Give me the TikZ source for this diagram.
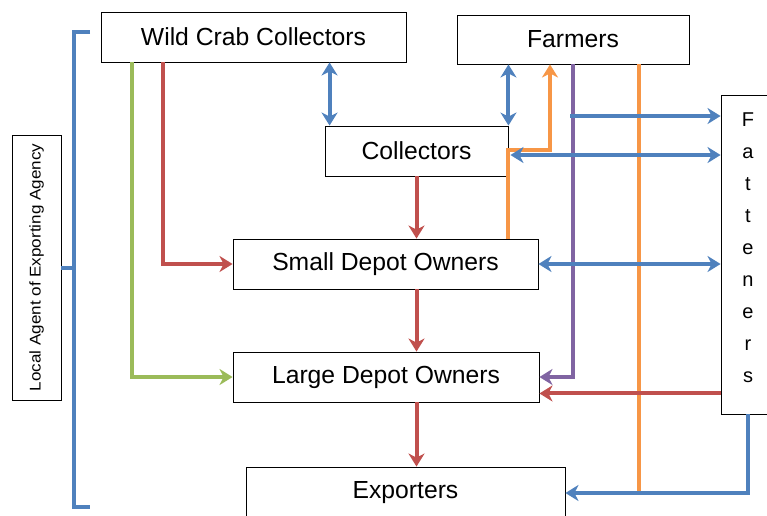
\documentclass[tikz,border=0pt]{standalone}
\usepackage{fontspec}
\setmainfont{Liberation Sans}
\usetikzlibrary{arrows.meta,calc}
\definecolor{cblue}{RGB}{79,129,189}
\definecolor{cred}{RGB}{192,80,77}
\definecolor{cgreen}{RGB}{155,187,89}
\definecolor{corange}{RGB}{247,150,70}
\definecolor{cpurple}{RGB}{128,100,162}
\begin{document}
\begin{tikzpicture}[x=1pt,y=-1pt,
  box/.style={draw=black, line width=0.9pt, fill=white, inner sep=0pt, font=\fontsize{24.7}{28}\selectfont},
  conn/.style={line width=4pt},
  tip/.style={-{Stealth[length=13pt,width=16pt,inset=4pt]}},
  dtip/.style={{Stealth[length=13pt,width=16pt,inset=4pt]}-{Stealth[length=13pt,width=16pt,inset=4pt]}},
]
\useasboundingbox (0,0) rectangle (767,515);
\clip (0,0) rectangle (767,515);
% boxes
\node[box, minimum width=305pt, minimum height=50pt] (wcc) at (253.5,37) {Wild Crab Collectors};
\node[box, minimum width=232pt, minimum height=49pt] (farm) at (573,39.5) {Farmers};
\node[box, minimum width=183pt, minimum height=50pt] (coll) at (416.5,151) {Collectors};
\node[box, minimum width=305pt, minimum height=50pt] (sdo) at (385.5,264) {Small Depot Owners};
\node[box, minimum width=306pt, minimum height=50pt] (ldo) at (386,377) {Large Depot Owners};
\node[box, minimum width=319pt, minimum height=52pt] (exp) at (405.5,493) {Exporters};
\node[box, minimum width=54pt, minimum height=319pt] (fat) at (748,254.5) {};
\node[font=\fontsize{20}{32}\selectfont, align=center, inner sep=0pt] (fattxt) at (748,248) {F\\a\\t\\t\\e\\n\\e\\r\\s};
\node[box, rotate=90, minimum width=265pt, minimum height=49pt, font=\fontsize{15.5}{18}\selectfont] (lag) at (36.5,267.5) {\scalebox{1.1}[1]{Local Agent of Exporting Agency}};
% blue bracket of the local agent
\coordinate (brt) at (74,32);
\coordinate (brb) at (74,507);
\coordinate (bte) at (90,32);
\coordinate (bbe) at (90,507);
\draw[conn,cblue] (bte) -- (brt) -- (brb) -- (bbe);
\draw[conn,cblue] (lag.south) -- (lag.south -| brt);
% wild crab collectors
\draw[conn,cgreen,tip] ($(wcc.south west)+(31,0)$) |- (ldo.west);
\draw[conn,cred,tip] ($(wcc.south west)+(62,0)$) |- (sdo.west);
\coordinate (c1) at ($(coll.north west)+(5,0)$);
\draw[conn,cblue,dtip] (c1) -- (c1 |- wcc.south);
% farmers
\draw[conn,cblue,dtip] (coll.north east) -- (coll.north east |- farm.south);
\coordinate (o1) at ($(sdo.north west)+(275,0)$);
\coordinate (o2) at (550,150);
\draw[conn,corange,tip] (o1) |- (o2) -- (o2 |- farm.south);
\draw[conn,cpurple,tip] (farm.south) |- (ldo.east);
\coordinate (o3) at ($(farm.south)+(66,0)$);
\draw[conn,corange] (o3) -- (o3 |- exp.east);
% fatteners
\coordinate (b1) at (570,116);
\draw[conn,cblue,tip] (b1) -- (b1 -| fat.west);
\coordinate (b2) at ($(coll.east)+(2,4)$);
\draw[conn,cblue,dtip] (b2) -- (b2 -| fat.west);
\draw[conn,cblue,dtip] (sdo.east) -- (sdo.east -| fat.west);
\coordinate (r1) at ($(fat.south west)+(0,-21)$);
\draw[conn,cred,tip] (r1) -- (r1 -| ldo.east);
\draw[conn,cblue,tip] (fat.south) |- (exp.east);
% main chain
\draw[conn,cred,tip] (coll.south) -- (coll.south |- sdo.north);
\draw[conn,cred,tip] (sdo.south -| coll.south) -- (ldo.north -| coll.south);
\draw[conn,cred,tip] (ldo.south -| coll.south) -- (exp.north -| coll.south);
\end{tikzpicture}
\end{document}
